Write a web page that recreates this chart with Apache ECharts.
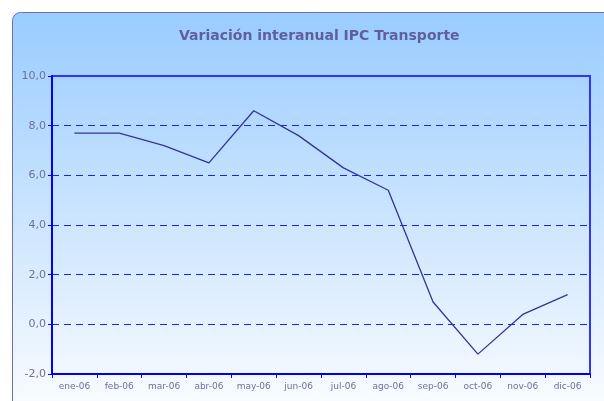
<!DOCTYPE html>
<html>
<head>
<meta charset="utf-8">
<script src="https://cdn.jsdelivr.net/npm/echarts@6/dist/echarts.min.js"></script>
<style>
  html, body { margin: 0; padding: 0; background: #fff; }
  #main { width: 604px; height: 401px; }
</style>
</head>
<body>
<div id="main"></div>
<script>
// datos
var meses = ['ene-06', 'feb-06', 'mar-06', 'abr-06', 'may-06', 'jun-06',
             'jul-06', 'ago-06', 'sep-06', 'oct-06', 'nov-06', 'dic-06'];
var ipcTransporte = [7.7, 7.7, 7.2, 6.5, 8.6, 7.6, 6.3, 5.4, 0.9, -1.2, 0.4, 1.2];

var myChart = echarts.init(document.getElementById('main'));

function fmt (v) {
  return v.toFixed(1).replace('.', ',');
}

var option = {
  animation: false,
  textStyle: { fontFamily: 'DejaVu Sans' },
  graphic: [{
    type: 'rect',
    z: -10,
    shape: { x: 12.5, y: 12.5, width: 620, height: 420, r: 8 },
    style: {
      fill: new echarts.graphic.LinearGradient(0, 0, 0, 1, [
        { offset: 0, color: '#99CCFF' },
        { offset: 0.9, color: '#F6FAFF' },
        { offset: 1, color: '#FFFFFF' }
      ]),
      stroke: '#7070A8',
      lineWidth: 1
    }
  }],
  title: {
    text: 'Variación interanual IPC Transporte',
    left: 174,
    top: 24,
    textStyle: {
      color: '#5F5F99',
      fontSize: 14,
      fontWeight: 'bold',
      fontFamily: 'DejaVu Sans'
    }
  },
  grid: {
    left: 52, right: 14, top: 76, bottom: 27,
    show: true,
    borderColor: '#3333FF',
    borderWidth: 2,
    backgroundColor: 'transparent'
  },
  xAxis: {
    type: 'category',
    data: meses,
    boundaryGap: true,
    axisLine: { onZero: false, lineStyle: { color: '#0000FF', width: 2 } },
    axisTick: { show: true, inside: false, length: 4, lineStyle: { color: '#0000FF' } },
    axisLabel: { color: '#707099', fontSize: 9, margin: 8 },
    splitLine: { show: false }
  },
  yAxis: {
    type: 'value',
    min: -2,
    max: 10,
    interval: 2,
    axisLine: { show: true, lineStyle: { color: '#0000FF', width: 2 } },
    axisTick: { show: true, length: 4, lineStyle: { color: '#0000FF' } },
    axisLabel: { color: '#707099', fontSize: 11, margin: 6, formatter: fmt },
    splitLine: {
      show: true,
      showMinLine: false,
      showMaxLine: false,
      lineStyle: { color: '#2020FF', type: [7, 5], width: 1.2 }
    }
  },
  series: [{
    type: 'line',
    data: ipcTransporte,
    symbol: 'none',
    lineStyle: { color: '#333399', width: 1.3 }
  }]
};

myChart.setOption(option);
</script>
</body>
</html>
